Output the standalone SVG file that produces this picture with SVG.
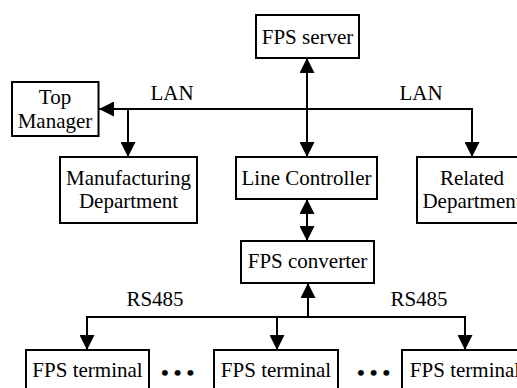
<svg xmlns="http://www.w3.org/2000/svg" width="517" height="388" viewBox="0 0 517 388">
<defs>
<style>
.box{fill:#fff;stroke:#000;stroke-width:2}
.t{font-family:"Liberation Serif","Times New Roman",serif;font-size:21px;fill:#000;text-anchor:middle}
.ln{fill:none;stroke:#000;stroke-width:2}
.dots{font-family:"Liberation Serif","Times New Roman",serif;font-size:22px;font-weight:bold;fill:#000}
</style>
<marker id="ah" markerUnits="userSpaceOnUse" markerWidth="15" markerHeight="15" refX="14" refY="7" orient="auto-start-reverse" viewBox="0 0 14 14">
<path d="M0,0 L14,7 L0,14 z" fill="#000"/>
</marker>
</defs>
<rect width="517" height="388" fill="#fff"/>
<g id="connectors">
<path class="ln" d="M99,109 H472 V157" marker-start="url(#ah)" marker-end="url(#ah)"/>
<path class="ln" d="M128,109 V157" marker-end="url(#ah)"/>
<path class="ln" d="M307,58 V157" marker-start="url(#ah)" marker-end="url(#ah)"/>
<path class="ln" d="M307,199 V241" marker-start="url(#ah)" marker-end="url(#ah)"/>
<path class="ln" d="M308,317 V283" marker-end="url(#ah)"/>
<path class="ln" d="M87,350 V317 H465 V350" marker-start="url(#ah)" marker-end="url(#ah)"/>
<path class="ln" d="M277,317 V350" marker-end="url(#ah)"/>
<text class="t" x="172" y="100">LAN</text>
<text class="t" x="421" y="100">LAN</text>
<text class="t" x="155" y="306">RS485</text>
<text class="t" x="419" y="306">RS485</text>
</g>
<g id="server"><rect class="box" x="256" y="15" width="103" height="43"/><text class="t" x="307.5" y="44">FPS server</text></g>
<g id="top-manager"><rect class="box" x="12" y="82" width="86.5" height="54"/><text class="t" x="55" y="104">Top</text><text class="t" x="55" y="128">Manager</text></g>
<g id="manufacturing"><rect class="box" x="60" y="157" width="137" height="66"/><text class="t" x="128.5" y="185">Manufacturing</text><text class="t" x="128.5" y="208">Department</text></g>
<g id="line-controller"><rect class="box" x="236" y="157" width="141" height="42"/><text class="t" x="306.5" y="185">Line Controller</text></g>
<g id="related"><rect class="box" x="417" y="157" width="110" height="66"/><text class="t" x="472" y="185">Related</text><text class="t" x="472" y="208">Department</text></g>
<g id="converter"><rect class="box" x="241" y="241" width="133" height="42"/><text class="t" x="307.5" y="268">FPS converter</text></g>
<g id="terminal-1"><rect class="box" x="26" y="350" width="123" height="45"/><text class="t" x="87.5" y="377">FPS terminal</text></g>
<g id="terminal-2"><rect class="box" x="214" y="350" width="124" height="45"/><text class="t" x="276" y="377">FPS terminal</text></g>
<g id="terminal-3"><rect class="box" x="402" y="350" width="124" height="45"/><text class="t" x="465" y="377">FPS terminal</text></g>
<g id="dots"><text class="dots" x="161" y="380" letter-spacing="5">•••</text><text class="dots" x="357" y="380" letter-spacing="5">•••</text></g>
</svg>
